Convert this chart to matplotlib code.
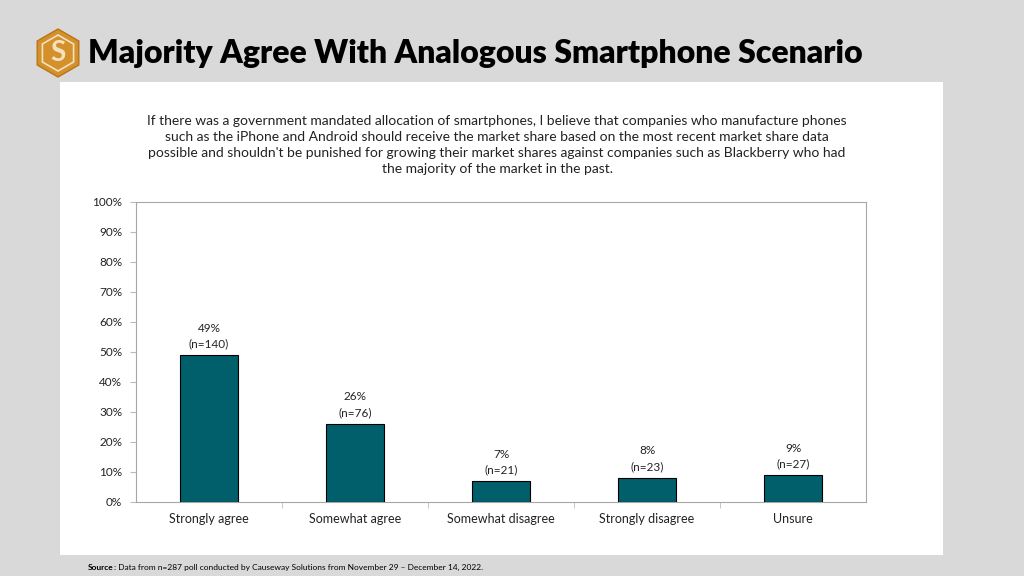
import matplotlib.pyplot as plt
from matplotlib.patches import Rectangle, RegularPolygon

categories = ['Strongly agree', 'Somewhat agree', 'Somewhat disagree', 'Strongly disagree', 'Unsure']
pct = [49, 26, 7, 8, 9]
counts = [140, 76, 21, 23, 27]
yticks = [0, 10, 20, 30, 40, 50, 60, 70, 80, 90, 100]

plt.rcParams['font.family'] = ['Lato', 'DejaVu Sans']

fig = plt.figure(figsize=(10.24, 5.76), dpi=100)
fig.patch.set_facecolor('#d9d9d9')

# white panel
fig.patches.append(Rectangle((60/1024, 1-555/576), 883/1024, 473/576,
                             transform=fig.transFigure, facecolor='white',
                             edgecolor='none', zorder=0))

# logo
lax = fig.add_axes([36/1024, 1-80/576, 44/1024, 54/576])
lax.set_xlim(-1.1, 1.1)
lax.set_ylim(-1.25, 1.25)
lax.set_aspect('equal')
lax.axis('off')
lax.add_patch(RegularPolygon((0, 0), 6, radius=1.2, facecolor='#d4902a', edgecolor='#b8751a'))
lax.add_patch(RegularPolygon((0, 0), 6, radius=0.9, facecolor='none', edgecolor='#f3e2c0', linewidth=1.2))
lax.text(0, -0.02, 'S', ha='center', va='center', fontsize=20, fontweight='bold', color='#f3e2c0')

fig.text(88/1024, 1-53/576, 'Majority Agree With Analogous Smartphone Scenario',
         ha='left', va='center', fontsize=23, fontweight='heavy', color='black')

subtitle = ("If there was a government mandated allocation of smartphones, I believe that companies who manufacture phones\n"
            "such as the iPhone and Android should receive the market share based on the most recent market share data\n"
            "possible and shouldn't be punished for growing their market shares against companies such as Blackberry who had\n"
            "the majority of the market in the past.")
fig.text(497/1024, 1-145/576, subtitle, ha='center', va='center', fontsize=10,
         linespacing=1.4, color='#222222')

ax = fig.add_axes([136/1024, 1-502/576, 730/1024, 300/576], zorder=5)
ax.patch.set_alpha(0)
x = list(range(len(categories)))
ax.bar(x, pct, width=0.4, color='#015f6b', edgecolor='black', linewidth=0.8, zorder=3)
for xi, p, n in zip(x, pct, counts):
    ax.text(xi, p + 2, f'{p}%\n(n={n})', ha='center', va='bottom', fontsize=8.5,
            linespacing=1.5, color='#222222')

ax.set_xlim(-0.5, len(categories) - 0.5)
ax.set_ylim(0, 100)
ax.set_yticks(yticks)
ax.set_yticklabels([f'{t}%' for t in yticks], fontsize=8.5, color='#222222')
ax.set_xticks(x)
ax.set_xticklabels(categories, fontsize=9, color='#222222')
ax.set_xticks([i + 0.5 for i in x[:-1]], minor=True)
ax.tick_params(axis='x', which='major', length=0, pad=8)
ax.tick_params(axis='x', which='minor', length=4, color='#bbbbbb', direction='out')
ax.tick_params(axis='y', length=4, color='#bbbbbb', pad=6)
for s in ax.spines.values():
    s.set_color('#a6a6a6')
    s.set_linewidth(0.8)

src = fig.text(88/1024, 1-567/576, 'Source', fontsize=6, fontweight='bold',
               ha='left', va='center', color='black')
fig.add_artist(plt.Annotation(': Data from n=287 poll conducted by Causeway Solutions from November 29 \u2013 December 14, 2022.',
                              xy=(1, 0.5), xycoords=src, fontsize=6, ha='left', va='center',
                              color='black'))

fig.savefig('out.png', dpi=100, facecolor=fig.get_facecolor())
